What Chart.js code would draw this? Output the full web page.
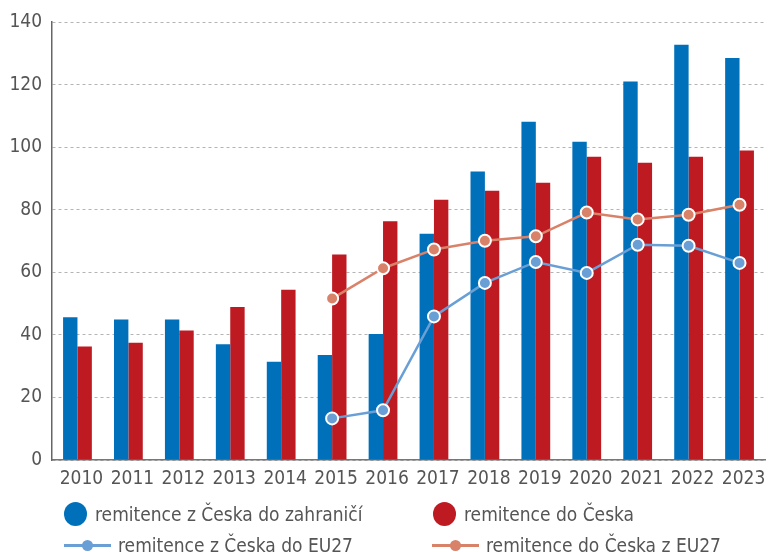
<!DOCTYPE html>
<html>
<head>
<meta charset="utf-8">
<script src="https://cdn.jsdelivr.net/npm/chart.js@4/dist/chart.umd.min.js"></script>
<style>
  body { margin: 0; background: #fff; }
  #wrap { position: relative; width: 773px; height: 552px; }
  .leg { position: absolute; display: flex; align-items: center; height: 26px;
         font-family: "Liberation Sans Narrow", "DejaVu Sans Condensed", sans-serif;
         font-size: 19px; color: #555; white-space: nowrap; }
  .dot { display: inline-block; width: 23px; height: 24px; border-radius: 50%; margin-right: 8px; }
  .ln { position: relative; display: inline-block; width: 47px; height: 3px; margin-right: 7px; }
  .ln i { position: absolute; left: 18px; top: -4px; width: 11px; height: 11px; border-radius: 50%; }
</style>
</head>
<body>
<div id="wrap">
  <canvas id="myChart" width="773" height="552"></canvas>
</div>
<script>
// Data
var years = ['2010', '2011', '2012', '2013', '2014', '2015', '2016', '2017', '2018', '2019', '2020', '2021', '2022', '2023'];
var remitZCeska = [45.6, 44.9, 44.9, 37.0, 31.4, 33.6, 40.3, 72.3, 92.2, 108.1, 101.7, 121.0, 132.7, 128.5];
var remitDoCeska = [36.3, 37.5, 41.4, 48.9, 54.4, 65.7, 76.3, 83.2, 86.1, 88.6, 96.9, 95.0, 96.9, 98.9];
var remitZCeskaEU = [null, null, null, null, null, 13.3, 15.9, 45.9, 56.6, 63.3, 59.8, 68.8, 68.5, 63.0];
var remitDoCeskaEU = [null, null, null, null, null, 51.6, 61.3, 67.3, 70.1, 71.5, 79.1, 76.9, 78.4, 81.6];
var yTicks = [0, 20, 40, 60, 80, 100, 120, 140];
var seriesNames = ['remitence z Česka do zahraničí', 'remitence do Česka', 'remitence z Česka do EU27', 'remitence do Česka z EU27'];

var blue = '#0070ba';
var red = '#be1a22';
var lightBlue = '#6a9fd6';
var salmon = '#d9826a';
var textColor = '#555555';
var font = { family: '"Liberation Sans Narrow", "DejaVu Sans Condensed", sans-serif', size: 19 };

var ctx = document.getElementById('myChart').getContext('2d');
var myChart = new Chart(ctx, {
    data: {
        labels: years,
        datasets: [{
            type: 'bar',
            label: seriesNames[0],
            data: remitZCeska,
            backgroundColor: blue,
            order: 2
        }, {
            type: 'bar',
            label: seriesNames[1],
            data: remitDoCeska,
            backgroundColor: red,
            order: 2
        }, {
            type: 'line',
            label: seriesNames[2],
            data: remitZCeskaEU,
            borderColor: lightBlue,
            backgroundColor: lightBlue,
            borderWidth: 2.5,
            pointRadius: 6,
            pointBorderColor: '#fff',
            pointBorderWidth: 2,
            lineTension: 0,
            order: 1
        }, {
            type: 'line',
            label: seriesNames[3],
            data: remitDoCeskaEU,
            borderColor: salmon,
            backgroundColor: salmon,
            borderWidth: 2.5,
            pointRadius: 6,
            pointBorderColor: '#fff',
            pointBorderWidth: 2,
            lineTension: 0,
            order: 0
        }]
    },
    options: {
        responsive: false,
        animation: false,
        layout: { padding: { top: 22, right: 0, bottom: 62, left: 0 } },
        datasets: {
            bar: { categoryPercentage: 0.565, barPercentage: 1.0 }
        },
        plugins: {
            legend: { display: false },
            tooltip: { enabled: false }
        },
        scales: {
            x: {
                grid: { display: false, drawTicks: false },
                border: { display: true, color: '#777', width: 1.5 },
                ticks: { color: textColor, font: font, padding: 8, labelOffset: 4, maxRotation: 0, autoSkip: false },
                afterFit: function (scale) { scale.height = 30; }
            },
            y: {
                min: 0,
                max: 140,
                afterBuildTicks: function (scale) {
                    scale.ticks = yTicks.map(function (v) { return { value: v }; });
                },
                grid: { color: '#b4b4b4', lineWidth: 1, drawTicks: false },
                border: { display: true, color: '#666', width: 1.5, dash: [3, 3] },
                ticks: { color: textColor, font: font, padding: 10 },
                afterFit: function (scale) { scale.width = 52; }
            }
        }
    }
});

// HTML legend, two columns under the chart
var wrap = document.getElementById('wrap');
var legendSpots = [[64, 501], [433, 501], [64, 532], [432, 532]];
var legendColors = [blue, red, lightBlue, salmon];
seriesNames.forEach(function (name, i) {
    var el = document.createElement('div');
    el.className = 'leg';
    el.style.left = legendSpots[i][0] + 'px';
    el.style.top = legendSpots[i][1] + 'px';
    var marker;
    if (i < 2) {
        marker = '<span class="dot" style="background:' + legendColors[i] + '"></span>';
    } else {
        marker = '<span class="ln" style="background:' + legendColors[i] + '"><i style="background:' + legendColors[i] + '"></i></span>';
    }
    el.innerHTML = marker + '<span></span>';
    el.lastChild.textContent = name;
    wrap.appendChild(el);
});
</script>
</body>
</html>
